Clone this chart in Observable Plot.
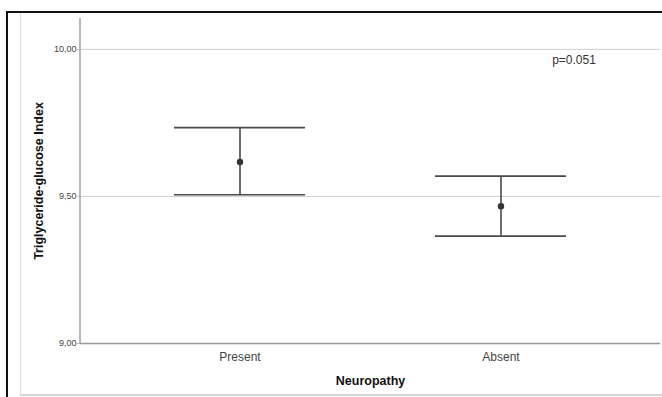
<!DOCTYPE html>
<html>
<head>
<meta charset="utf-8">
<script src="https://cdn.jsdelivr.net/npm/d3@7"></script>
<script src="https://cdn.jsdelivr.net/npm/@observablehq/plot@0.6"></script>
<style>
  html, body { margin: 0; padding: 0; background: #fff; overflow: hidden; }
  #wrap { position: relative; width: 662px; height: 397px; overflow: hidden; }
  .deco { position: absolute; pointer-events: none; }
  #chart { position: absolute; left: 0; top: 0; }
</style>
</head>
<body>
<div id="wrap">
  <div class="deco" style="left:20px; top:13px; width:1px; height:382px; background:#dcdcdc;"></div>
  <div class="deco" style="left:20px; top:394px; width:642px; height:2px; background:#d6d6d6;"></div>
  <div class="deco" style="left:6px; top:11px; width:656px; height:2px; background:#111;"></div>
  <div class="deco" style="left:6px; top:11px; width:2px; height:386px; background:#111;"></div>
  <div id="chart"></div>
</div>
<script>
const categories = ["Present", "Absent"];
const means = [9.617, 9.467];
const lower = [9.506, 9.365];
const upper = [9.734, 9.569];
const yTicks = [9, 9.5, 10];
const yLabel = "Triglyceride-glucose Index";
const xLabel = "Neuropathy";
const annotation = "p=0.051";
const annotationY = 9.963;

const data = categories.map((c, i) => ({group: c, mean: means[i], lo: lower[i], hi: upper[i]}));
const fmt = d => d.toFixed(2).replace(".", ",");

const chart = Plot.plot({
  width: 662,
  height: 397,
  marginLeft: 80,
  marginRight: 2,
  marginTop: 18,
  marginBottom: 54,
  style: {fontFamily: "'Liberation Sans', Arial, sans-serif", background: "transparent", color: "#333"},
  x: {domain: categories, paddingInner: 0.5, paddingOuter: 0.36, label: null},
  y: {domain: [9, 10.105], label: null},
  marks: [
    Plot.gridY(yTicks.slice(1), {stroke: "#cfcfcf", strokeOpacity: 1, strokeWidth: 1}),
    Plot.ruleY([yTicks[0]], {stroke: "#999", strokeWidth: 1.5}),
    Plot.axisY(yTicks, {tickFormat: fmt, tickSize: 3, tickPadding: 1, fontSize: 9, fill: "#444", stroke: "#b8b8b8", label: null}),
    Plot.axisX({tickSize: 0, tickPadding: 9, fontSize: 12, fill: "#444", label: null}),
    Plot.text([yLabel], {frameAnchor: "left", textAnchor: "middle", rotate: -90, dx: -42, fontSize: 12.5, fontWeight: "bold", fill: "#111"}),
    Plot.text([xLabel], {frameAnchor: "bottom", dy: 41, fontSize: 12.5, fontWeight: "bold", fill: "#111"}),
    Plot.ruleX(data, {x: "group", y1: "lo", y2: "hi", stroke: "#4a4a4a", strokeWidth: 1.6}),
    Plot.tickY(data, {x: "group", y: "hi", stroke: "#4a4a4a", strokeWidth: 1.6}),
    Plot.tickY(data, {x: "group", y: "lo", stroke: "#4a4a4a", strokeWidth: 1.6}),
    Plot.dot(data, {x: "group", y: "mean", r: 3.2, fill: "#333", stroke: "none"}),
    Plot.text([annotation], {x: () => categories[1], y: () => annotationY, dx: 73, fontSize: 12, fill: "#333"})
  ]
});

const xs = chart.scale("x");
const ys = chart.scale("y");
const x0 = Math.min(...xs.range);
d3.select(chart).append("line")
  .attr("x1", x0).attr("x2", x0)
  .attr("y1", ys.apply(ys.domain[1])).attr("y2", ys.apply(ys.domain[0]))
  .attr("stroke", "#b8b8b8").attr("stroke-width", 2);

document.getElementById("chart").appendChild(chart);
</script>
</body>
</html>
